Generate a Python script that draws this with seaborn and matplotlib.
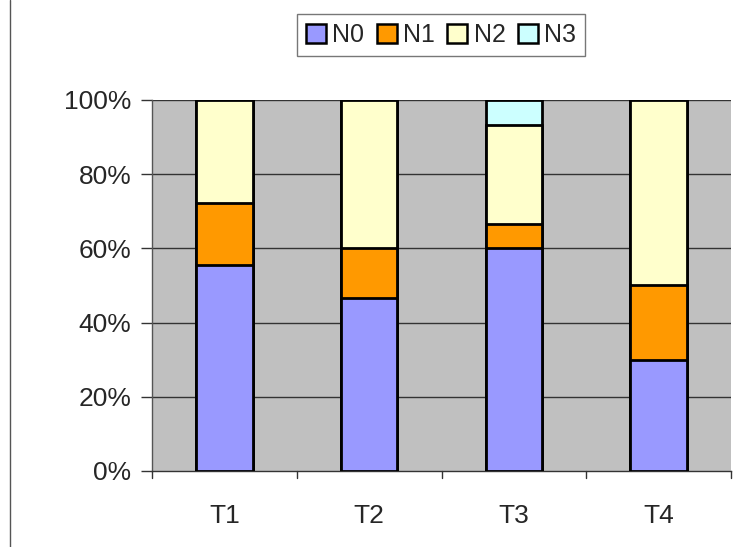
import matplotlib
matplotlib.use("Agg")
import matplotlib.pyplot as plt
import seaborn as sns
import pandas as pd
import numpy as np
from matplotlib.patches import Patch
from matplotlib.lines import Line2D

categories = ["T1", "T2", "T3", "T4"]
series = ["N0", "N1", "N2", "N3"]
n0 = [55.6, 46.7, 60.0, 30.0]
n1 = [16.7, 13.3, 6.7, 20.0]
n2 = [27.7, 40.0, 26.6, 50.0]
n3 = [0.0, 0.0, 6.7, 0.0]
colors = ["#9999FF", "#FF9900", "#FFFFCC", "#CCFFFF"]
yticklabels = ["0%", "20%", "40%", "60%", "80%", "100%"]

sns.set_theme(style="white")
plt.rcParams['font.family'] = ['Liberation Sans', 'DejaVu Sans']

fig = plt.figure(figsize=(7.39, 5.47), dpi=100)
ax = fig.add_axes([152/739, (547-471)/547, (731-152)/739, 371/547])
ax.set_facecolor("#C0C0C0")

vals = np.array([n0, n1, n2, n3])
cum = np.cumsum(vals, axis=0)
for i in range(3, -1, -1):
    df = pd.DataFrame({"cat": categories, "val": cum[i]})
    sns.barplot(data=df, x="cat", y="val", color=colors[i], saturation=1,
                width=0.39, edgecolor="black", linewidth=2, ax=ax, zorder=3)

ax.set_ylim(0, 100)
ax.set_xlim(-0.5, 3.5)
ax.set_yticks([0, 20, 40, 60, 80, 100])
ax.set_yticklabels(yticklabels, fontsize=19)
ax.set_xticks(range(4))
ax.set_xticklabels(categories, fontsize=19)
ax.set_xlabel("")
ax.set_ylabel("")
for y in [20, 40, 60, 80, 100]:
    ax.axhline(y, color="#333333", lw=1, zorder=1)
for s in ["top", "right"]:
    ax.spines[s].set_visible(False)
ax.spines["left"].set_color("#555555")
ax.spines["bottom"].set_color("#333333")
ax.spines["left"].set_linewidth(1)
ax.spines["bottom"].set_linewidth(1)
ax.tick_params(axis="y", length=8, width=1, color="#333333", direction="out", left=True, pad=7)
ax.tick_params(axis="x", length=0, pad=24)
# category boundary ticks on x axis
for xb in [-0.5, 0.5, 1.5, 2.5, 3.5]:
    ax.plot([xb, xb], [0, -2], color="#333333", lw=1, clip_on=False, zorder=5)

handles = [Patch(facecolor=c, edgecolor="black", linewidth=1.8) for c in colors]
leg = fig.legend(handles, series, loc="center", bbox_to_anchor=(441/739, 1-35/547),
                 ncol=4, fontsize=18, frameon=True, fancybox=False,
                 handlelength=0.8, handleheight=0.8, handletextpad=0.25,
                 columnspacing=0.5, borderpad=0.35)
leg.get_frame().set_edgecolor("#555555")
leg.get_frame().set_linewidth(1)

# outer chart border
fig.add_artist(Line2D([10/739, 10/739], [0, 1], transform=fig.transFigure, color="#555555", lw=1))

fig.savefig("out.png", dpi=100)
